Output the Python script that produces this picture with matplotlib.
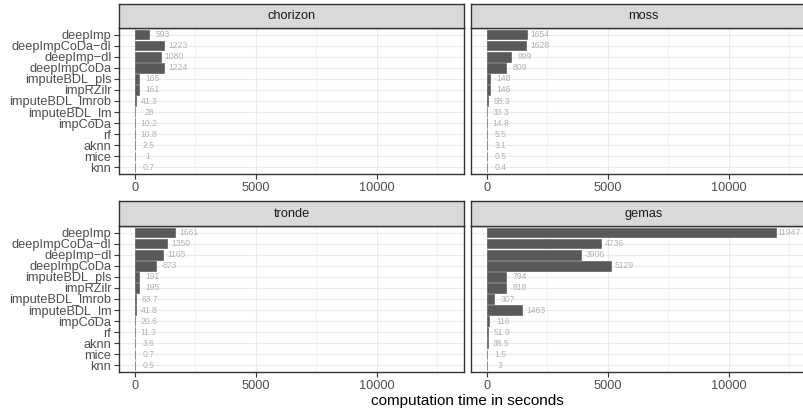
import matplotlib
matplotlib.use("Agg")
import matplotlib.pyplot as plt
import numpy as np

plt.rcParams["font.family"] = ["Liberation Sans", "DejaVu Sans"]

methods = ["deepImp", "deepImpCoDa−dl", "deepImp−dl", "deepImpCoDa",
           "imputeBDL_pls", "impRZilr", "imputeBDL_lmrob", "imputeBDL_lm",
           "impCoDa", "rf", "aknn", "mice", "knn"]

datasets = ["chorizon", "moss", "tronde", "gemas"]

chorizon = [593, 1223, 1080, 1224, 165, 161, 41.3, 28, 10.2, 10.8, 2.5, 1, 0.7]
moss = [1654, 1628, 999, 809, 148, 146, 55.3, 33.3, 14.8, 5.5, 3.1, 0.5, 0.4]
tronde = [1661, 1350, 1165, 873, 191, 195, 63.7, 41.8, 20.6, 11.3, 3.6, 0.7, 0.5]
gemas = [11947, 4736, 3906, 5129, 794, 818, 307, 1463, 116, 51.9, 38.5, 1.5, 3]

times = {"chorizon": chorizon, "moss": moss, "tronde": tronde, "gemas": gemas}

W, H = 804, 412
fig = plt.figure(figsize=(W / 100, H / 100), dpi=100)

# panel boxes in pixels: (left, top, right, bottom)
boxes = {
    "chorizon": (119, 28, 464, 174),
    "moss": (471, 28, 816, 174),
    "tronde": (119, 226, 464, 372),
    "gemas": (471, 226, 816, 372),
}
strip_h = 24.5

dark = "#333333"
ypos = np.arange(len(methods))[::-1]
fs = 9.2

for name in datasets:
    x0, y0, x1, y1 = boxes[name]
    ax = fig.add_axes([x0 / W, 1 - y1 / H, (x1 - x0) / W, (y1 - y0) / H])
    vals = times[name]
    ax.set_xlim(-648, 13608)
    ax.set_ylim(-0.6, len(methods) - 0.4)
    ax.set_xticks([0, 5000, 10000])
    ax.set_xticks([2500, 7500, 12500], minor=True)
    ax.set_yticks(ypos)
    ax.grid(True, which="major", color="#EBEBEB", linewidth=0.8, zorder=0)
    ax.grid(True, which="minor", axis="x", color="#EBEBEB", linewidth=0.4, zorder=0)
    ax.set_axisbelow(True)
    ax.barh(ypos, vals, height=0.86, color="#595959", edgecolor="#595959",
            linewidth=0.45, zorder=2)
    for y, v in zip(ypos, vals):
        ax.text(v + 560, y, f"{v:g}", ha="center", va="center",
                fontsize=6.2, color="#B3B3B3", zorder=3)
    for s in ax.spines.values():
        s.set_color(dark)
        s.set_linewidth(1.0)
    ax.tick_params(axis="x", which="major", length=3.5, width=0.8, color=dark,
                   labelsize=fs, labelcolor="#4D4D4D", pad=2)
    ax.tick_params(axis="x", which="minor", length=0)
    if name in ("chorizon", "tronde"):
        ax.set_yticklabels(methods)
        ax.tick_params(axis="y", length=3.5, width=0.8, color=dark,
                       labelsize=fs, labelcolor="#4D4D4D", pad=2)
    else:
        ax.set_yticklabels([])
        ax.tick_params(axis="y", length=0)

    sax = fig.add_axes([x0 / W, 1 - y0 / H, (x1 - x0) / W, strip_h / H])
    sax.set_facecolor("#D9D9D9")
    sax.set_xticks([])
    sax.set_yticks([])
    for s in sax.spines.values():
        s.set_color(dark)
        s.set_linewidth(1.0)
    sax.text(0.5, 0.5, name, ha="center", va="center", fontsize=fs,
             color="#1A1A1A", transform=sax.transAxes)

fig.text(467 / W, 1 - 401 / H, "computation time in seconds", ha="center",
         va="center", fontsize=11, color="black")

fig.savefig("out.png", dpi=100)
plt.close(fig)
